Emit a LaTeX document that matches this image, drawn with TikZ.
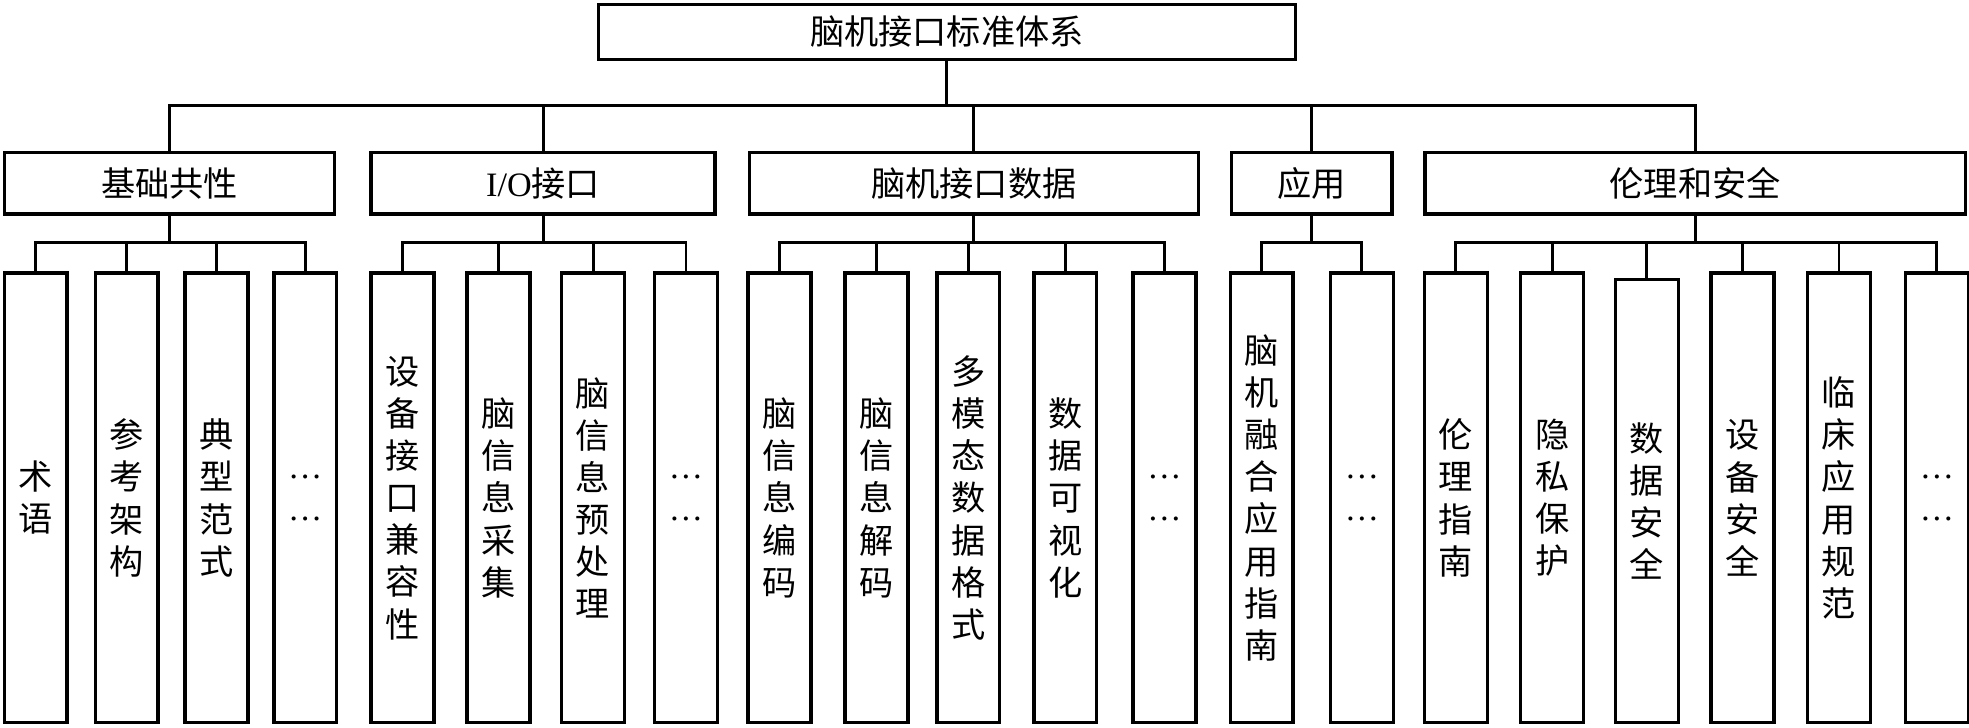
\documentclass[tikz,border=0pt]{standalone}
\usepackage{fontspec}
\usepackage{tikz}
\setmainfont{Liberation Serif}
\newfontfamily\cjk{Noto Sans CJK SC}

\begin{document}
\begin{tikzpicture}[
    topbox/.style={draw,line width=1.6pt,minimum width=11.1cm,minimum height=0.88cm,inner sep=0pt},
    catbox/.style={draw,line width=1.6pt,minimum height=0.98cm,inner sep=0pt},
    itembox/.style={draw,line width=1.6pt,minimum width=1.0cm,minimum height=7.16cm,inner sep=0pt,align=center},
    link/.style={line width=1.3pt},
    every node/.style={font={\cjk\fontsize{15.5pt}{19.1pt}\selectfont}}]
		\useasboundingbox[fill=white] (0,0) rectangle (31.36,-11.594);
		\coordinate (bus) at (0,-1.68);
		\coordinate (sub) at (0,-3.86);
		\node[topbox] (root) at (15.08,-0.51) {脑机接口标准体系};
		\node[catbox,minimum width=5.26cm] (ga) at (2.70,-2.92) {基础共性};
		\node[catbox,minimum width=5.48cm] (gb) at (8.65,-2.92) {{\rmfamily I/O}接口};
		\node[catbox,minimum width=7.15cm] (gc) at (15.51,-2.92) {脑机接口数据};
		\node[catbox,minimum width=2.56cm] (gd) at (20.89,-2.92) {应用};
		\node[catbox,minimum width=8.61cm] (ge) at (27.0,-2.92) {伦理和安全};
		\node[itembox] (a1) at (0.568,-7.93) {术\\语};
		\node[itembox] (a2) at (2.018,-7.93) {参\\考\\架\\构};
		\node[itembox] (a3) at (3.448,-7.93) {典\\型\\范\\式};
		\node[itembox] (a4) at (4.86,-7.93) {\rmfamily …\\\rmfamily …};
		\node[itembox] (b1) at (6.41,-7.93) {设\\备\\接\\口\\兼\\容\\性};
		\node[itembox] (b2) at (7.94,-7.93) {脑\\信\\息\\采\\集};
		\node[itembox] (b3) at (9.446,-7.93) {脑\\信\\息\\预\\处\\理};
		\node[itembox] (b4) at (10.926,-7.93) {\rmfamily …\\\rmfamily …};
		\node[itembox] (c1) at (12.414,-7.93) {脑\\信\\息\\编\\码};
		\node[itembox] (c2) at (13.96,-7.93) {脑\\信\\息\\解\\码};
		\node[itembox] (c3) at (15.42,-7.93) {多\\模\\态\\数\\据\\格\\式};
		\node[itembox] (c4) at (16.964,-7.93) {数\\据\\可\\视\\化};
		\node[itembox] (c5) at (18.546,-7.93) {\rmfamily …\\\rmfamily …};
		\node[itembox] (d1) at (20.096,-7.93) {脑\\机\\融\\合\\应\\用\\指\\南};
		\node[itembox] (d2) at (21.69,-7.93) {\rmfamily …\\\rmfamily …};
		\node[itembox] (e1) at (23.188,-7.93) {伦\\理\\指\\南};
		\node[itembox] (e2) at (24.72,-7.93) {隐\\私\\保\\护};
		\node[itembox,minimum height=7.06cm] (e3) at (26.23,-7.98) {数\\据\\安\\全};
		\node[itembox] (e4) at (27.752,-7.93) {设\\备\\安\\全};
		\node[itembox] (e5) at (29.29,-7.93) {临\\床\\应\\用\\规\\范};
		\node[itembox] (e6) at (30.848,-7.93) {\rmfamily …\\\rmfamily …};
		\draw[link] (root.south) -- (root.south |- bus);
		\draw[link] (ga.north) -- (ga.north |- bus) -- (ge.north |- bus) -- (ge.north);
		\draw[link] (gb.north) -- (gb.north |- bus);
		\draw[link] (gc.north) -- (gc.north |- bus);
		\draw[link] (gd.north) -- (gd.north |- bus);
		\draw[link] (ga.south) -- (ga.south |- sub);
		\draw[link] (a1.north) -- (a1.north |- sub) -- (a4.north |- sub) -- (a4.north);
		\draw[link] (a2.north) -- (a2.north |- sub);
		\draw[link] (a3.north) -- (a3.north |- sub);
		\draw[link] (gb.south) -- (gb.south |- sub);
		\draw[link] (b1.north) -- (b1.north |- sub) -- (b4.north |- sub) -- (b4.north);
		\draw[link] (b2.north) -- (b2.north |- sub);
		\draw[link] (b3.north) -- (b3.north |- sub);
		\draw[link] (gc.south) -- (gc.south |- sub);
		\draw[link] (c1.north) -- (c1.north |- sub) -- (c5.north |- sub) -- (c5.north);
		\draw[link] (c2.north) -- (c2.north |- sub);
		\draw[link] (c3.north) -- (c3.north |- sub);
		\draw[link] (c4.north) -- (c4.north |- sub);
		\draw[link] (gd.south) -- (gd.south |- sub);
		\draw[link] (d1.north) -- (d1.north |- sub) -- (d2.north |- sub) -- (d2.north);
		\draw[link] (ge.south) -- (ge.south |- sub);
		\draw[link] (e1.north) -- (e1.north |- sub) -- (e6.north |- sub) -- (e6.north);
		\draw[link] (e2.north) -- (e2.north |- sub);
		\draw[link] (e3.north) -- (e3.north |- sub);
		\draw[link] (e4.north) -- (e4.north |- sub);
		\draw[link] (e5.north) -- (e5.north |- sub);
    \end{tikzpicture}
\end{document}
